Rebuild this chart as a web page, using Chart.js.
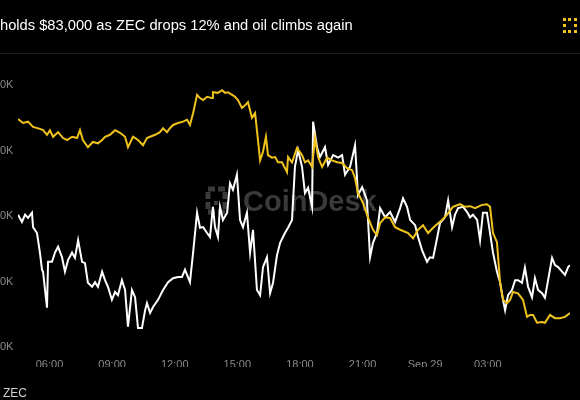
<!DOCTYPE html>
<html>
<head>
<meta charset="utf-8">
<script src="https://cdn.jsdelivr.net/npm/chart.js@4/dist/chart.umd.min.js"></script>
<style>
  html, body { margin: 0; padding: 0; background: #000; }
  body { width: 580px; height: 400px; position: relative; overflow: hidden; font-family: "Liberation Sans", Arial, sans-serif; }
  #title { position: absolute; left: 0; top: 17px; color: #fff; font-size: 14.7px; white-space: nowrap; }
  #sep { position: absolute; left: 0; top: 53px; width: 580px; height: 1px; background: #1c1c1c; }
  #logo { position: absolute; left: 563px; top: 18px; width: 8px; height: 9px; border: 3px dotted #f2c31b; }
  #legend { position: absolute; left: 3px; top: 386px; color: #cfcfcf; font-size: 12px; }
  #wrap { position: absolute; left: 0; top: 0; width: 580px; height: 400px; }
</style>
</head>
<body>
<div id="wrap"><canvas id="c" width="580" height="400"></canvas></div>
<div id="title">holds $83,000 as ZEC drops 12% and oil climbs again</div>
<div id="sep"></div>
<div id="logo"></div>
<div id="legend">ZEC</div>
<script>
// Time in hours from Sep 28 00:00 (24 = Sep 29 00:00)
const xTickHours = [6, 9, 12, 15, 18, 21, 24, 27];
const xTickLabels = ["06:00", "09:00", "12:00", "15:00", "18:00", "21:00", "Sep 29", "03:00"];
const yTickValues = [0, 10, 20, 30, 40];
const yTickLabels = ["0K", "0K", "0K", "0K", "0K"];

// White series
const whiteHours = [4.49,4.68,4.83,4.97,5.16,5.21,5.40,5.54,5.64,5.69,5.88,5.93,6.12,6.26,6.41,6.60,6.74,6.89,7.08,7.22,7.37,7.56,7.70,7.84,8.04,8.18,8.32,8.52,8.66,8.80,8.99,9.14,9.28,9.47,9.62,9.76,9.95,10.10,10.24,10.43,10.58,10.67,10.82,10.96,11.20,11.44,11.68,11.92,12.16,12.35,12.49,12.73,12.88,13.07,13.21,13.36,13.55,13.69,13.83,13.93,14.07,14.17,14.31,14.51,14.65,14.79,14.98,15.13,15.27,15.46,15.61,15.75,15.94,16.09,16.23,16.42,16.57,16.71,16.90,17.05,17.28,17.43,17.62,17.76,17.91,18.10,18.24,18.39,18.58,18.63,18.82,18.96,19.20,19.35,19.59,19.83,20.02,20.16,20.40,20.64,20.78,20.98,21.21,21.36,21.50,21.69,21.84,22.08,22.32,22.56,22.80,22.94,23.13,23.28,23.52,23.66,23.85,24.09,24.23,24.38,24.57,24.71,24.95,25.10,25.29,25.43,25.58,25.82,26.01,26.15,26.29,26.49,26.63,26.77,26.96,27.11,27.25,27.44,27.59,27.73,27.83,27.97,28.16,28.31,28.45,28.64,28.78,28.93,29.12,29.26,29.41,29.60,29.74,29.89,30.08,30.22,30.37,30.56,30.70,30.85,30.94];
const whiteValues = [20.2,19.1,20.2,19.7,20.5,18.3,17.4,14.4,11.8,11.5,6.0,13.0,13.0,14.4,15.3,13.7,11.5,13.3,14.4,13.6,16.3,13.0,12.8,9.8,9.2,9.9,9.2,11.5,10.2,9.2,7.2,8.4,7.9,10.2,8.7,3.1,8.7,7.6,2.9,2.9,5.6,6.7,5.2,6.1,7.2,8.7,9.9,10.5,10.7,10.7,11.8,9.9,14.4,20.5,18.2,18.3,17.4,16.8,21.4,18.3,16.8,21.4,19.4,20.5,25.0,24.0,26.3,19.4,18.3,20.5,14.4,17.9,8.7,7.9,12.2,13.7,8.2,9.8,14.0,15.9,17.4,18.2,19.4,27.5,30.1,27.5,23.5,24.3,21.4,34.4,30.5,29.0,30.5,27.8,29.3,28.9,29.3,26.3,27.5,30.8,23.2,24.4,22.4,13.7,15.9,17.4,21.2,19.8,20.6,19.1,21.2,22.7,21.4,19.4,18.6,16.8,14.8,13.0,13.7,13.6,16.6,18.9,19.8,22.4,18.3,20.2,21.2,21.4,20.6,19.8,20.2,19.4,16.3,20.5,20.5,17.4,14.4,11.5,9.9,7.2,5.6,7.9,8.7,10.2,10.2,9.8,12.1,9.2,7.6,10.5,8.7,8.2,7.5,10.2,13.6,12.5,12.2,11.5,11.0,12.2,12.5];

// Yellow series (ZEC)
const zecHours = [4.49,4.73,4.97,5.21,5.54,5.69,5.88,6.02,6.17,6.41,6.65,6.84,7.08,7.32,7.46,7.60,7.84,8.08,8.32,8.52,8.66,8.90,9.14,9.38,9.62,9.76,10.00,10.24,10.48,10.67,10.82,11.06,11.29,11.44,11.63,11.77,11.92,12.16,12.40,12.59,12.73,12.88,13.07,13.21,13.36,13.55,13.79,13.83,14.07,14.27,14.41,14.55,14.75,14.89,15.03,15.22,15.37,15.51,15.70,15.85,15.99,16.09,16.23,16.37,16.47,16.66,16.81,16.95,17.14,17.38,17.43,17.62,17.86,18.10,18.24,18.39,18.58,18.72,18.87,19.06,19.30,19.54,19.78,20.02,20.26,20.50,20.64,20.78,21.02,21.26,21.50,21.69,21.84,22.08,22.32,22.56,22.80,23.03,23.18,23.42,23.66,23.90,24.14,24.38,24.62,24.81,25.05,25.33,25.67,25.91,26.15,26.39,26.73,26.96,27.11,27.25,27.44,27.59,27.73,27.92,28.07,28.21,28.45,28.69,28.88,29.02,29.17,29.36,29.60,29.74,29.98,30.22,30.46,30.70,30.94];
const zecValues = [34.8,34.2,34.4,33.6,33.3,33.1,32.4,33.1,32.1,32.8,31.9,31.6,32.1,31.9,33.1,31.6,30.5,31.3,31.1,31.6,32.1,32.4,33.1,32.7,32.1,30.5,32.1,31.6,30.8,31.9,32.1,32.4,32.8,33.4,32.8,33.4,33.9,34.2,34.4,34.7,33.9,35.7,38.5,38.0,37.7,38.2,38.0,38.9,38.8,39.2,38.8,38.9,38.5,38.2,37.7,36.5,36.9,37.4,35.0,35.7,31.6,28.5,29.8,32.1,29.3,28.9,29.0,28.2,28.2,26.7,29.0,28.2,30.4,29.3,28.2,28.5,27.5,31.9,29.0,27.5,28.9,28.5,28.2,28.1,27.3,27.0,25.8,23.5,22.0,19.8,17.9,17.1,18.9,19.8,19.7,18.3,17.9,17.6,17.4,16.6,17.9,18.6,17.4,18.2,18.9,19.4,20.2,21.4,21.8,21.4,21.5,21.2,21.7,21.8,21.4,17.4,16.0,9.8,7.2,6.7,7.2,8.4,8.2,7.2,4.6,4.9,4.9,3.7,3.8,3.7,4.9,4.4,4.4,4.6,5.2];

const toXY = (xs, ys) => xs.map((x, i) => ({ x: x, y: ys[i] }));

const watermark = {
  id: 'watermark',
  beforeDatasetsDraw(chart) {
    const ctx = chart.ctx;
    ctx.save();
    ctx.strokeStyle = '#3a3a3a';
    ctx.fillStyle = '#3a3a3a';
    ctx.lineWidth = 5;
    ctx.setLineDash([7, 3]);
    ctx.strokeRect(208, 189, 17, 23);
    ctx.setLineDash([]);
    ctx.fillRect(214, 201, 4, 4);
    ctx.font = 'bold 29px "Liberation Sans", Arial, sans-serif';
    ctx.textBaseline = 'middle';
    ctx.textAlign = 'left';
    ctx.fillText('CoinDesk', 243, 203);
    ctx.restore();
  }
};

new Chart(document.getElementById('c'), {
  type: 'line',
  data: {
    datasets: [
      { label: 'BTC', data: toXY(whiteHours, whiteValues), borderColor: '#ffffff', borderWidth: 2, pointRadius: 0, tension: 0, order: 2 },
      { label: 'ZEC', data: toXY(zecHours, zecValues), borderColor: '#f0c21c', borderWidth: 2, pointRadius: 0, tension: 0, order: 1 }
    ]
  },
  options: {
    responsive: false,
    animation: false,
    events: [],
    layout: { padding: { left: 0, right: 10, top: 85, bottom: 33 } },
    plugins: { legend: { display: false }, tooltip: { enabled: false }, title: { display: false } },
    scales: {
      x: {
        type: 'linear',
        min: 4.49,
        max: 30.94,
        grid: { display: false },
        border: { display: false },
        afterBuildTicks(axis) { axis.ticks = xTickHours.map(v => ({ value: v })); },
        afterFit(axis) { axis.height = 20; },
        ticks: {
          color: '#8a8a8a',
          font: { family: '"Liberation Sans", Arial, sans-serif', size: 11 },
          padding: 3,
          maxRotation: 0,
          autoSkip: false,
          callback: (v) => { const i = xTickHours.indexOf(v); return i >= 0 ? xTickLabels[i] : ''; }
        }
      },
      y: {
        type: 'linear',
        min: 0,
        max: 40,
        grid: { display: false },
        border: { display: false },
        afterBuildTicks(axis) { axis.ticks = yTickValues.map(v => ({ value: v })); },
        afterFit(axis) { axis.width = 18; },
        ticks: {
          color: '#8a8a8a',
          font: { family: '"Liberation Sans", Arial, sans-serif', size: 11 },
          padding: 0,
          crossAlign: 'far',
          callback: (v) => { const i = yTickValues.indexOf(v); return i >= 0 ? yTickLabels[i] : ''; }
        }
      }
    }
  },
  plugins: [watermark]
});
</script>
</body>
</html>
